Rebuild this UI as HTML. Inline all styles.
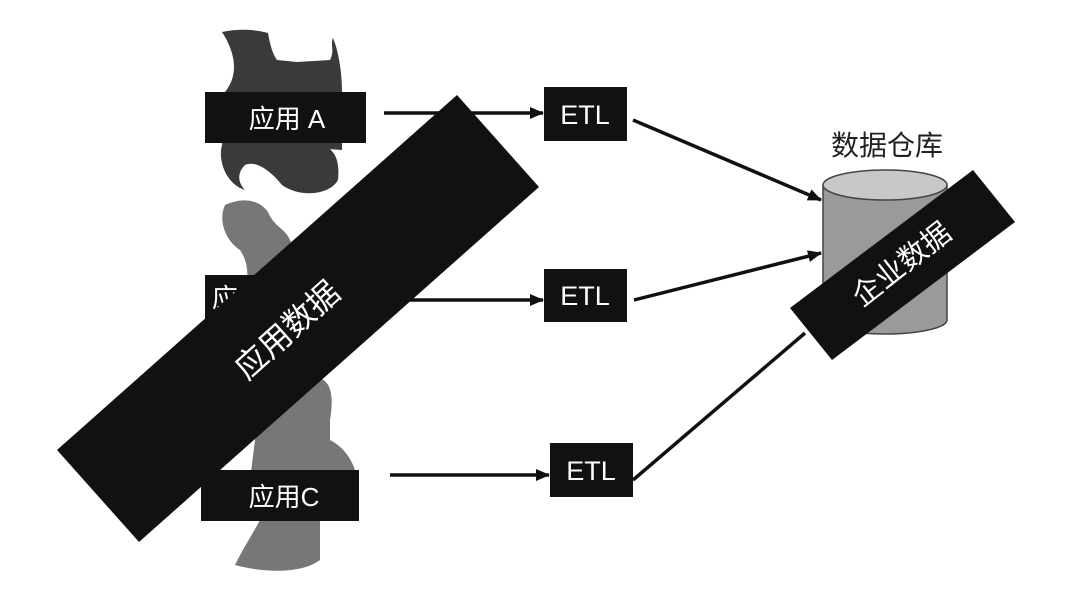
<!DOCTYPE html>
<html><head><meta charset="utf-8"><style>
html,body{margin:0;padding:0;background:#fff;}
svg{display:block;}
text{font-family:"Liberation Sans","Noto Sans CJK SC",sans-serif;fill:#fff;}
</style></head><body>
<svg width="1080" height="598" viewBox="0 0 1080 598" xmlns="http://www.w3.org/2000/svg">
<defs><marker id="ar" markerWidth="14" markerHeight="12" refX="13" refY="6" orient="auto" markerUnits="userSpaceOnUse"><path d="M0,0 L14,6 L0,12 Z" fill="#111"/></marker></defs>
<path d="M222,32 C240,28 258,30 268,33 C270,45 273,55 277,60 L297,62 L330,60 C335,50 330,45 333,38 C338,50 342,70 342,92 L342,150 L315,148 C305,140 300,145 322,144 C335,150 340,160 338,180 C330,195 300,198 282,185 C270,170 255,160 245,165 C235,175 240,185 245,190 L240,188 C225,180 218,160 222,145 L225,92 C235,80 240,60 222,32 Z" fill="#3a3a3a"/>
<path d="M225,205 C240,198 258,198 268,212 C275,228 285,228 290,240 L300,260 L300,380 C330,370 335,390 330,420 L330,440 C340,445 350,455 355,470 C362,485 360,500 345,505 L320,500 L320,560 C300,575 260,572 235,565 C245,545 255,530 260,520 L245,520 L260,400 L250,360 L245,300 C248,280 250,265 240,250 C225,240 218,220 225,205 Z" fill="#777"/>
<rect x="205" y="92" width="161" height="51" fill="#111"/>
<text x="287" y="128" font-size="26" text-anchor="middle">应用 A</text>
<rect x="205" y="275" width="150" height="50" fill="#111"/>
<text x="212" y="307" font-size="26">应用B</text>
<rect x="201" y="470" width="158" height="51" fill="#111"/>
<text x="284" y="506" font-size="26" text-anchor="middle">应用C</text>
<line x1="384" y1="113" x2="543" y2="113" stroke="#111" stroke-width="3.5" marker-end="url(#ar)"/>
<line x1="405" y1="300" x2="543" y2="300" stroke="#111" stroke-width="3.5" marker-end="url(#ar)"/>
<line x1="390" y1="475" x2="549" y2="475" stroke="#111" stroke-width="3.5" marker-end="url(#ar)"/>
<rect x="544" y="87" width="83" height="54" fill="#111"/>
<text x="585" y="124" font-size="27" text-anchor="middle">ETL</text>
<rect x="544" y="269" width="83" height="53" fill="#111"/>
<text x="585" y="305" font-size="27" text-anchor="middle">ETL</text>
<rect x="550" y="443" width="83" height="54" fill="#111"/>
<text x="591" y="480" font-size="27" text-anchor="middle">ETL</text>
<line x1="633" y1="120" x2="821" y2="200" stroke="#111" stroke-width="3.5" marker-end="url(#ar)"/>
<line x1="634" y1="300" x2="821" y2="253" stroke="#111" stroke-width="3.5" marker-end="url(#ar)"/>
<line x1="633" y1="480" x2="805" y2="333" stroke="#111" stroke-width="3.5"/>
<text x="887" y="155" font-size="28" text-anchor="middle" style="fill:#222">数据仓库</text>
<path d="M823,185 L823,320 A62,14 0 0 0 947,320 L947,185 Z" fill="#9a9a9a" stroke="#444" stroke-width="1.5"/>
<ellipse cx="885" cy="185" rx="62" ry="15" fill="#c8c8c8" stroke="#444" stroke-width="1.5"/>
<polygon points="457,95 539,187 139,542 57,450" fill="#111"/>
<text x="289" y="332" font-size="32" text-anchor="middle" dominant-baseline="middle" transform="rotate(-42 289 332)">应用数据</text>
<polygon points="973,170 1015,222 832,360 790,308" fill="#111"/>
<text x="903" y="266" font-size="29" text-anchor="middle" dominant-baseline="middle" transform="rotate(-38 903 266)">企业数据</text>
</svg>
</body></html>
